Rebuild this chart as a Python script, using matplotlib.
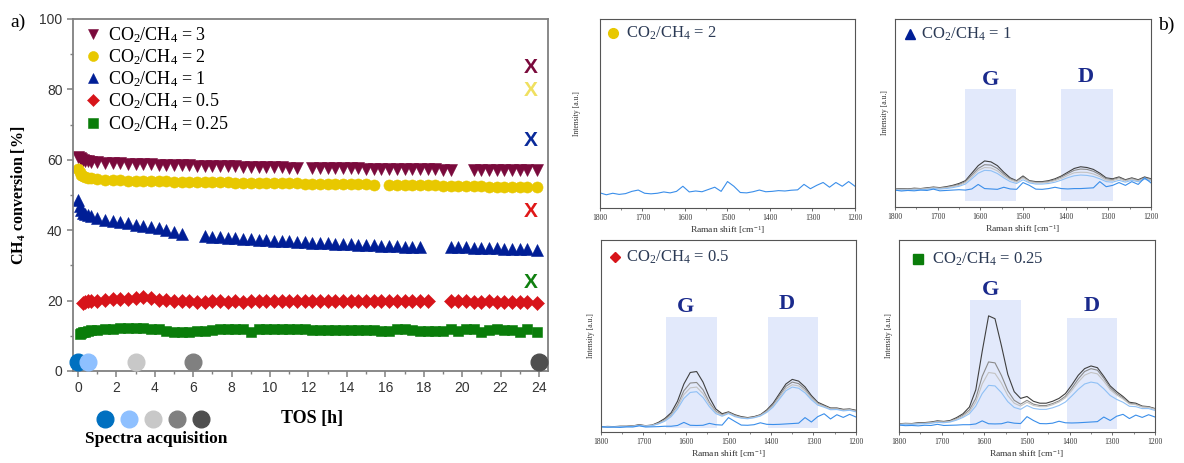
import numpy as np
import matplotlib
matplotlib.use('Agg')
import matplotlib.pyplot as plt
from matplotlib.lines import Line2D
from matplotlib.ticker import MultipleLocator

plt.rcParams['font.family'] = 'Liberation Serif'
plt.rcParams['mathtext.fontset'] = 'custom'
plt.rcParams['mathtext.rm'] = 'Liberation Serif'
plt.rcParams['mathtext.it'] = 'Liberation Serif:italic'
plt.rcParams['mathtext.bf'] = 'Liberation Serif:bold'

# ---- panel a) : CH4 conversion vs time on stream ----
tos = [0.0, 0.08, 0.16, 0.25, 0.35, 0.5, 0.7, 1.0,
       1.4, 1.8, 2.2, 2.6, 3.0, 3.4, 3.8, 4.2, 4.6, 5.0,
       5.4, 5.8, 6.2, 6.6, 7.0, 7.4, 7.8, 8.2, 8.6, 9.0,
       9.4, 9.8, 10.2, 10.6, 11.0, 11.4, 11.8, 12.2, 12.6, 13.0,
       13.4, 13.8, 14.2, 14.6, 15.0, 15.4, 15.8, 16.2, 16.6, 17.0,
       17.4, 17.8, 18.2, 18.6, 19.0, 19.4, 19.8, 20.2, 20.6, 21.0,
       21.4, 21.8, 22.2, 22.6, 23.0, 23.4, 23.9]

conv_3 = [60.8, 60.5, 60.2, 60.0, 59.8, 59.6, 59.5, 59.3,
          59.2, 59.1, 59.0, 58.9, 58.9, 58.8, 58.7, 58.6, 58.6, 58.5,
          58.4, 58.4, 58.3, 58.3, 58.2, 58.2, 58.1, 58.1, 58.0, 58.0,
          58.0, 57.9, 57.9, 57.9, 57.8, 57.8, None, 57.8, 57.7, 57.7,
          57.7, 57.6, 57.6, 57.6, 57.5, 57.5, 57.5, 57.5, 57.4, 57.4,
          57.4, 57.3, 57.3, 57.3, 57.2, 57.2, None, None, 57.2, 57.2,
          57.2, 57.1, 57.1, 57.1, 57.0, 57.0, 57.0]
conv_2 = [57.5, 56.5, 55.8, 55.4, 55.1, 54.9, 54.7, 54.5,
          54.4, 54.3, 54.2, 54.1, 54.1, 54.0, 54.0, 53.9, 53.9, 53.8,
          53.8, 53.7, 53.7, 53.7, 53.6, 53.6, 53.6, 53.5, 53.5, 53.5,
          53.4, 53.4, 53.4, 53.3, 53.3, 53.3, 53.2, 53.2, 53.2, 53.1,
          53.1, 53.1, 53.0, 53.0, 53.0, 52.9, None, 52.9, 52.8, 52.8,
          52.8, 52.7, 52.7, 52.7, 52.6, 52.6, 52.6, 52.5, 52.5, 52.5,
          52.4, 52.4, 52.4, 52.3, 52.3, 52.2, 52.2]
conv_1 = [48.5, 46.8, 45.6, 45.0, 44.6, 44.2, 43.9, 43.5,
          43.0, 42.6, 42.3, 42.0, 41.6, 41.2, 40.9, 40.5, 40.1, 39.6,
          39.0, None, None, 38.3, 38.1, 38.0, 37.8, 37.7, 37.5, 37.4,
          37.3, 37.2, 37.0, 36.9, 36.8, 36.7, 36.6, 36.5, 36.4, 36.3,
          36.2, 36.1, 36.0, 35.9, 35.8, 35.7, 35.6, 35.5, 35.4, 35.3,
          35.2, 35.1, None, None, None, 35.3, 35.2, 35.1, 35.0, 35.0,
          34.9, 34.9, 34.8, 34.7, 34.7, 34.6, 34.5]
conv_05 = [None, None, None, 19.4, 19.6, 19.8, 19.9, 20.0,
           20.2, 20.4, 20.5, 20.4, 20.7, 21.0, 20.6, 20.3, 20.1, 20.0,
           20.0, 19.8, 19.7, 19.7, 19.8, 19.8, 19.7, 19.8, 19.7, 19.8,
           19.8, 19.9, 19.8, 19.9, 19.8, 19.8, 19.8, 19.9, 19.8, 19.8,
           19.8, 19.8, 19.8, 19.8, 19.8, 19.8, 19.8, 19.8, 19.8, 19.8,
           19.8, 19.9, 19.8, None, None, 19.9, 20.0, 19.8, 19.7, 19.6,
           19.8, 19.7, 19.6, 19.5, 19.5, 19.5, 19.2]
conv_025 = [None, 10.6, 10.8, 11.0, 11.2, 11.4, 11.6, 11.7,
            11.8, 12.0, 12.1, 12.1, 12.2, 12.2, 12.0, 11.8, 11.5, 11.2,
            11.0, 11.0, 11.3, 11.4, 11.6, 11.8, 12.0, 12.0, 11.8, 11.2,
            11.8, 12.0, 12.0, 11.8, 11.8, 11.8, 11.8, 11.7, 11.7, 11.7,
            11.7, 11.7, 11.7, 11.7, 11.7, 11.6, 11.3, 11.5, 11.8, 12.0,
            11.6, 11.3, 11.3, 11.3, 11.4, 11.8, 11.3, 12.0, 11.8, 11.2,
            11.7, 11.8, 11.7, 11.6, 11.0, 12.0, 11.0]

ratio_labels = ['CO$_2$/CH$_4$ = 3', 'CO$_2$/CH$_4$ = 2', 'CO$_2$/CH$_4$ = 1',
                'CO$_2$/CH$_4$ = 0.5', 'CO$_2$/CH$_4$ = 0.25']
ratio_markers = ['v', 'o', '^', 'D', 's']
ratio_sizes = [8.5, 8.0, 8.5, 7.0, 7.5]
ratio_colors = ['#7A0A3C', '#E8C800', '#001E96', '#D7141A', '#0A7D0A']

# equilibrium conversion marks (X)
x_mark_t = [23.55, 23.55, 23.55, 23.55, 23.55]
x_mark_val = [86.3, 79.6, 65.4, 45.4, 25.2]
x_mark_colors = ['#7A0A3C', '#F0E060', '#0A2A9A', '#E01818', '#108010']

# spectra acquisition times
acq_t = [0, 0.5, 3, 6, 24]
acq_y = [2.5, 2.5, 2.5, 2.5, 2.5]
acq_colors = ['#0070C0', '#8EC0FF', '#C8C8C8', '#808080', '#4F4F4F']

# ---- panel b) : Raman spectra (intensity as % of panel height) ----
wn = [1800, 1785, 1770, 1755, 1740, 1725, 1710, 1695, 1680, 1665,
      1650, 1635, 1620, 1605, 1590, 1575, 1560, 1545, 1530, 1515,
      1500, 1485, 1470, 1455, 1440, 1425, 1410, 1395, 1380, 1365,
      1350, 1335, 1320, 1305, 1290, 1275, 1260, 1245, 1230, 1215, 1200]

spec_r2_0h = [8.0, 7.0, 7.8, 7.2, 7.6, 8.8, 9.5, 7.8, 7.5, 7.8,
              8.5, 8.0, 8.8, 11.5, 8.5, 9.0, 8.6, 9.8, 11.0, 8.8,
              14.0, 11.5, 8.2, 8.0, 8.6, 9.5, 8.6, 8.8, 9.2, 9.0,
              9.4, 9.6, 12.5, 10.2, 12.0, 13.5, 11.0, 13.5, 11.5, 14.0, 11.5]

spec_r1_0h = [9.0, 8.5, 8.8, 8.6, 9.0, 8.8, 9.5, 8.6, 8.8, 9.0,
              9.2, 9.0, 9.6, 12.0, 9.8, 9.6, 9.4, 10.5, 9.6, 9.4,
              13.0, 11.5, 9.5, 9.4, 9.8, 10.5, 9.8, 9.6, 9.8, 9.8,
              10.0, 10.2, 13.5, 10.8, 11.5, 13.0, 11.5, 13.5, 12.0, 15.5, 12.8]
spec_r1_05h = [8.8, 9.0, 8.9, 9.1, 9.1, 9.4, 9.8, 9.5, 9.8, 10.3,
               11.0, 12.2, 15.0, 18.0, 19.5, 19.3, 17.8, 15.5, 13.5, 12.5,
               14.5, 12.8, 12.2, 12.2, 12.5, 13.2, 14.3, 15.6, 16.6, 17.0,
               16.8, 16.2, 15.0, 13.5, 13.2, 14.2, 13.2, 14.2, 13.4, 14.8, 13.8]
spec_r1_3h = [9.2, 9.4, 9.3, 9.5, 9.5, 9.8, 10.2, 9.9, 10.2, 10.8,
              11.5, 13.0, 16.0, 19.5, 21.0, 20.8, 19.2, 16.5, 14.5, 13.2,
              15.5, 13.4, 12.8, 12.8, 13.2, 14.0, 15.2, 16.8, 18.2, 18.5,
              18.4, 17.6, 16.2, 14.3, 14.0, 15.0, 13.8, 14.8, 13.8, 15.2, 14.3]
spec_r1_6h = [9.4, 9.6, 9.5, 9.8, 9.7, 10.0, 10.4, 10.1, 10.5, 11.2,
              12.0, 13.5, 17.0, 20.5, 22.5, 22.3, 20.5, 17.5, 15.0, 13.8,
              16.0, 13.8, 13.2, 13.2, 13.6, 14.5, 16.0, 17.8, 19.5, 20.2,
              20.0, 19.0, 17.2, 15.0, 14.6, 15.6, 14.2, 15.2, 14.2, 15.6, 14.7]
spec_r1_24h = [9.5, 9.8, 9.6, 10.0, 9.8, 10.2, 10.6, 10.3, 10.8, 11.5,
               12.5, 14.0, 18.0, 22.0, 24.5, 24.0, 22.0, 18.5, 15.5, 14.0,
               16.5, 14.0, 13.5, 13.5, 14.0, 15.0, 16.5, 18.5, 20.5, 21.4,
               21.0, 20.0, 18.0, 15.5, 15.0, 16.0, 14.5, 15.5, 14.5, 16.0, 15.0]

spec_r05_0h = [2.8, 2.5, 2.6, 2.4, 2.7, 2.6, 3.2, 2.6, 2.7, 2.8,
               3.0, 3.0, 3.4, 5.0, 3.5, 3.4, 3.5, 4.5, 3.8, 3.6,
               7.5, 5.5, 3.6, 3.5, 3.8, 4.8, 4.0, 3.9, 4.0, 4.2,
               4.4, 4.6, 7.5, 5.2, 8.0, 9.5, 6.8, 9.0, 7.6, 9.2, 7.8]
spec_r05_05h = [2.4, 2.6, 2.5, 2.7, 2.7, 2.9, 3.4, 3.0, 3.3, 4.2,
                5.6, 8.0, 12.0, 17.5, 20.6, 21.0, 18.0, 13.2, 9.6, 8.2,
                9.6, 8.0, 7.2, 6.9, 7.4, 8.3, 10.2, 13.0, 17.2, 21.5,
                23.4, 22.8, 20.4, 16.8, 14.0, 12.9, 11.6, 11.7, 11.0, 11.3, 10.5]
spec_r05_3h = [2.5, 2.7, 2.6, 2.8, 2.8, 3.0, 3.5, 3.1, 3.4, 4.4,
               6.0, 8.5, 13.0, 19.5, 23.0, 23.4, 20.0, 14.5, 10.3, 8.7,
               9.9, 8.4, 7.5, 7.1, 7.6, 8.6, 10.6, 13.6, 18.0, 22.6,
               24.6, 24.0, 21.4, 17.6, 14.6, 13.3, 12.0, 12.0, 11.3, 11.6, 10.8]
spec_r05_6h = [2.6, 2.8, 2.7, 2.9, 2.9, 3.1, 3.6, 3.2, 3.5, 4.6,
               6.3, 9.0, 14.0, 21.5, 25.5, 25.8, 22.0, 15.5, 10.8, 9.0,
               10.2, 8.7, 7.7, 7.3, 7.8, 8.8, 11.0, 14.2, 19.0, 23.8,
               26.0, 25.2, 22.4, 18.2, 15.0, 13.6, 12.2, 12.2, 11.5, 11.8, 11.0]
spec_r05_24h = [2.7, 2.9, 2.8, 3.0, 3.0, 3.2, 3.8, 3.3, 3.6, 5.0,
                7.0, 10.0, 16.0, 25.0, 31.0, 31.5, 26.0, 18.0, 12.0, 9.5,
                10.5, 9.0, 8.0, 7.5, 8.0, 9.0, 11.5, 15.0, 20.0, 25.0,
                27.4, 26.5, 23.5, 19.0, 15.5, 14.0, 12.5, 12.5, 11.8, 12.0, 11.3]

spec_r025_0h = [3.6, 3.3, 3.4, 3.2, 3.5, 3.4, 4.0, 3.4, 3.5, 3.6,
                3.8, 3.8, 4.2, 5.8, 4.3, 4.2, 4.3, 5.2, 4.6, 4.4,
                8.0, 6.0, 4.4, 4.3, 4.6, 5.6, 4.8, 4.7, 4.8, 5.0,
                5.2, 5.4, 7.8, 6.0, 8.2, 9.2, 7.0, 8.8, 7.6, 9.0, 7.8]
spec_r025_05h = [3.8, 4.0, 3.9, 4.2, 4.3, 4.5, 5.0, 4.8, 5.2, 6.2,
                 7.6, 9.5, 13.5, 20.0, 24.3, 24.0, 20.5, 15.8, 12.8, 11.8,
                 13.8, 12.3, 11.8, 11.8, 12.6, 13.8, 15.6, 18.8, 22.2, 25.0,
                 26.0, 25.4, 22.5, 19.0, 17.0, 15.5, 13.4, 13.2, 12.2, 12.2, 11.2]
spec_r025_3h = [4.0, 4.2, 4.1, 4.4, 4.5, 4.8, 5.3, 5.1, 5.5, 6.6,
                8.2, 10.5, 15.5, 25.0, 31.0, 30.5, 25.5, 19.0, 15.0, 13.5,
                15.5, 13.8, 13.2, 13.2, 14.2, 15.6, 17.8, 21.6, 26.0, 29.6,
                31.0, 30.3, 26.5, 22.0, 19.3, 17.2, 14.6, 14.2, 13.0, 12.8, 11.8]
spec_r025_6h = [4.2, 4.4, 4.3, 4.6, 4.7, 5.0, 5.5, 5.3, 5.7, 7.0,
                8.8, 11.5, 17.5, 29.0, 36.5, 36.0, 29.5, 21.5, 16.5, 14.5,
                16.5, 14.5, 13.8, 13.8, 14.8, 16.2, 18.6, 22.8, 27.6, 31.5,
                33.0, 32.2, 28.0, 23.0, 20.0, 17.8, 15.0, 14.5, 13.2, 13.0, 12.0]
spec_r025_24h = [4.3, 4.5, 4.4, 4.8, 4.9, 5.2, 5.8, 5.5, 6.0, 7.5,
                 9.5, 13.0, 22.0, 42.0, 60.5, 59.0, 45.0, 30.0, 21.0, 17.5,
                 18.5, 16.0, 15.0, 15.0, 16.0, 17.5, 20.0, 24.5, 29.5, 33.0,
                 34.4, 33.5, 29.0, 24.0, 21.0, 18.5, 15.5, 15.0, 13.5, 13.2, 12.2]

spec_colors = ['#3A8EEA', '#8FC0F5', '#C3C3C3', '#8A8A8A', '#3F3F3F']

W, H = 1184, 463


def px_box(x0, y0, x1, y1):
    return [x0 / W, 1 - y1 / H, (x1 - x0) / W, (y1 - y0) / H]


fig = plt.figure(figsize=(W / 100, H / 100), dpi=100)

# ---------------- a) ----------------
ax = fig.add_axes(px_box(73, 19, 548, 371))
series = [conv_3, conv_2, conv_1, conv_05, conv_025]
for vals, lab, m, ms, c in zip(series, ratio_labels, ratio_markers, ratio_sizes, ratio_colors):
    y = np.array(vals, dtype=float)
    ax.plot(tos, y, ls='none', marker=m, ms=ms, mfc=c, mec=c, mew=0.4, label=lab)

for t, v, c in zip(x_mark_t, x_mark_val, x_mark_colors):
    ax.text(t, v, 'X', color=c, fontsize=15, fontweight='bold',
            family='Liberation Sans', ha='center', va='center')

for t, v, c in zip(acq_t, acq_y, acq_colors):
    ax.plot([t], [v], ls='none', marker='o', ms=12, mfc=c, mec=c, clip_on=False, zorder=6)

ax.set_xlim(-0.26, 24.47)
ax.set_ylim(0, 100)
ax.xaxis.set_major_locator(MultipleLocator(2))
ax.xaxis.set_minor_locator(MultipleLocator(1))
ax.yaxis.set_major_locator(MultipleLocator(20))
ax.yaxis.set_minor_locator(MultipleLocator(10))
for s in ax.spines.values():
    s.set_color('#808080')
    s.set_linewidth(1.3)
ax.tick_params(which='both', direction='out', color='#808080', labelcolor='#333333',
               labelsize=10, labelfontfamily='Liberation Sans')
ax.tick_params(which='major', length=4, width=1.1)
ax.tick_params(which='minor', length=2.5, width=1.0)
ax.set_ylabel(r'CH$_\mathbf{4}$ conversion [%]', fontsize=11.5, fontweight='bold', labelpad=8)

leg = ax.legend(loc='upper left', bbox_to_anchor=(0.026, 0.983), frameon=False,
                fontsize=13, handlelength=0.9, handletextpad=0.35, labelspacing=0.14,
                borderpad=0, borderaxespad=0, markerscale=0.9)

fig.text(312 / W, 1 - 418 / H, 'TOS [h]', fontsize=13, fontweight='bold',
         ha='center', va='center')
fig.text(156 / W, 1 - 439 / H, 'Spectra acquisition', fontsize=12.5, fontweight='bold',
         ha='center', va='center')
acq_handles = [Line2D([], [], ls='none', marker='o', ms=12, mfc=c, mec=c) for c in acq_colors]
fig.legend(acq_handles, [''] * 5, ncol=5, loc='center', bbox_to_anchor=(153 / W, 1 - 420 / H),
           frameon=False, fontsize=10, handlelength=1.0, handletextpad=0.0,
           columnspacing=0.73, borderpad=0)

fig.text(18 / W, 1 - 22 / H, 'a)', fontsize=14, ha='center', va='center')
fig.text(1166 / W, 1 - 25 / H, 'b)', fontsize=14, ha='center', va='center')

# ---------------- b) ----------------
panels = [
    dict(pos=(600, 19, 855, 208), curves=[spec_r2_0h], title='CO$_2$/CH$_4$ = 2',
         marker='o', mcolor='#E8C800', mx=0.05, tx=0.1, ty=0.925, bands=[], letters=[],
         ylab_pad=14),
    dict(pos=(895, 19, 1151, 207),
         curves=[spec_r1_0h, spec_r1_05h, spec_r1_3h, spec_r1_6h, spec_r1_24h],
         title='CO$_2$/CH$_4$ = 1', marker='^', mcolor='#001E96', mx=0.06, tx=0.1, ty=0.92,
         bands=[(1635, 1516, 0.032, 0.628), (1412, 1290, 0.032, 0.628)],
         letters=[('G', 1576, 67.8), ('D', 1353, 69.0)], ylab_pad=4),
    dict(pos=(601, 240, 856, 432),
         curves=[spec_r05_0h, spec_r05_05h, spec_r05_3h, spec_r05_6h, spec_r05_24h],
         title='CO$_2$/CH$_4$ = 0.5', marker='D', mcolor='#D7141A', mx=0.055, tx=0.1, ty=0.91,
         bands=[(1647, 1526, 0.02, 0.60), (1408, 1290, 0.02, 0.60)],
         letters=[('G', 1600, 65.0), ('D', 1362, 66.6)], ylab_pad=4),
    dict(pos=(899, 240, 1155, 432),
         curves=[spec_r025_0h, spec_r025_05h, spec_r025_3h, spec_r025_6h, spec_r025_24h],
         title='CO$_2$/CH$_4$ = 0.25', marker='s', mcolor='#0A7D0A', mx=0.075, tx=0.13, ty=0.9,
         bands=[(1634, 1515, 0.017, 0.686), (1406, 1289, 0.017, 0.594)],
         letters=[('G', 1585, 73.8), ('D', 1348, 65.6)], ylab_pad=4),
]

for p in panels:
    sa = fig.add_axes(px_box(*p['pos']))
    for x0, x1, y0, y1 in p['bands']:
        sa.axvspan(x0, x1, ymin=y0, ymax=y1, color='#E2E9FB', lw=0, zorder=0)
    curves = p['curves']
    if len(curves) == 1:
        sa.plot(wn, curves[0], color=spec_colors[0], lw=0.8)
    else:
        for vals, c in reversed(list(zip(curves, spec_colors))):
            sa.plot(wn, vals, color=c, lw=0.8)
    for txt, x, y in p['letters']:
        sa.text(x, y, txt, fontsize=16, fontweight='bold', color='#1A2A8C',
                ha='center', va='center')
    sa.plot([p['mx']], [p['ty']], ls='none', marker=p['marker'], ms=7 if p['marker'] != 'D' else 5.5,
            mfc=p['mcolor'], mec=p['mcolor'], transform=sa.transAxes, clip_on=False)
    sa.text(p['tx'], p['ty'], p['title'], transform=sa.transAxes, fontsize=12,
            color='#2B3A55', ha='left', va='center')
    sa.set_xlim(1800, 1200)
    sa.set_ylim(0, 100)
    sa.xaxis.set_major_locator(MultipleLocator(100))
    sa.xaxis.set_minor_locator(MultipleLocator(50))
    sa.set_yticks([])
    for s in sa.spines.values():
        s.set_color('#555555')
        s.set_linewidth(0.8)
    sa.tick_params(which='both', direction='out', color='#555555', labelsize=5.5,
                   labelcolor='#333333', pad=1.5)
    sa.tick_params(which='major', length=2.5, width=0.6)
    sa.tick_params(which='minor', length=1.5, width=0.5)
    sa.set_xlabel('Raman shift [cm$^{-1}$]', fontsize=6.8, labelpad=2, color='#333333')
    sa.set_ylabel('Intensity [a.u.]', fontsize=5.5, labelpad=p['ylab_pad'], color='#333333')

fig.savefig('out.png', dpi=100)
